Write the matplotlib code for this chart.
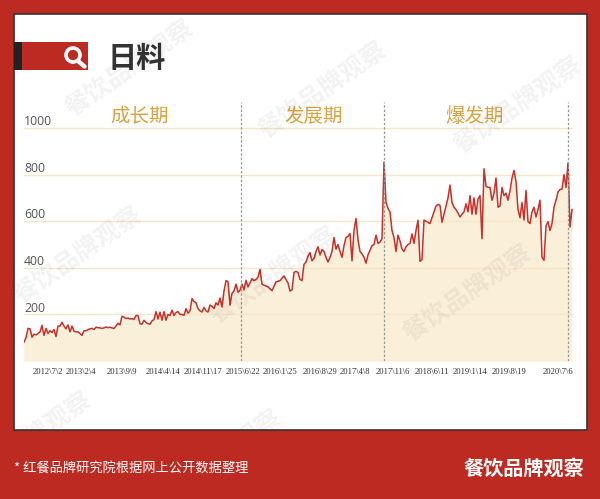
import numpy as np
import matplotlib
matplotlib.use('Agg')
import matplotlib.pyplot as plt
from matplotlib.patches import Rectangle, Circle

plt.rcParams['font.family'] = ['Noto Sans CJK SC', 'DejaVu Sans']

# ============================================
# data (one sample per step on the category axis)
# ============================================
values = [
    81, 100, 140, 138, 102, 115, 112, 118, 125, 153, 110, 140, 118, 130, 122, 135, 105, 150, 150, 166,
    150, 138, 155, 125, 150, 128, 125, 125, 118, 110, 130, 130, 135, 138, 140, 135, 145, 143, 142, 140,
    142, 146, 143, 145, 142, 140, 150, 162, 155, 192, 188, 182, 185, 180, 182, 178, 195, 195, 160, 158,
    175, 165, 160, 158, 172, 178, 212, 180, 210, 175, 212, 175, 200, 195, 218, 195, 208, 212, 200, 200,
    196, 225, 205, 215, 268, 255, 250, 225, 215, 210, 230, 215, 210, 240, 235, 225, 250, 240, 270, 232,
    300, 345, 340, 240, 290, 300, 330, 295, 303, 330, 305, 346, 318, 335, 353, 345, 350, 360, 393, 330,
    325, 322, 318, 310, 302, 320, 340, 342, 345, 355, 365, 350, 335, 300, 305, 380, 385, 380, 350, 345,
    415, 425, 450, 465, 430, 440, 470, 490, 455, 478, 470, 445, 425, 445, 470, 530, 480, 500, 470, 445,
    495, 530, 535, 547, 430, 560, 612, 520, 470, 460, 445, 420, 455, 475, 495, 500, 540, 505, 510, 525,
    854, 680, 655, 640, 560, 530, 470, 540, 515, 480, 470, 490, 500, 505, 545, 505, 560, 604, 428, 435,
    605, 600, 595, 590, 615, 640, 665, 672, 668, 595, 630, 665, 700, 755, 680, 660, 650, 635, 618, 630,
    640, 675, 640, 710, 630, 700, 630, 695, 710, 525, 825, 750, 745, 745, 690, 720, 785, 660, 665, 745,
    710, 720, 690, 730, 785, 818, 770, 650, 615, 680, 605, 732, 598, 590, 640, 660, 618, 650, 690, 445,
    432, 580, 598, 560, 590, 660, 690, 725, 736, 738, 800, 745, 850, 575, 650,
]
date_labels = ['2012\\7\\2', '2013\\2\\4', '2013\\9\\9', '2014\\4\\14', '2014\\11\\17', '2015\\6\\22', '2016\\1\\25',
               '2016\\8\\29', '2017\\4\\8', '2017\\11\\6', '2018\\6\\11', '2019\\1\\14', '2019\\8\\19', '2020\\7\\6']
date_steps = [12, 28.5, 49, 69.5, 89.5, 109.5, 128, 148, 165.5, 184.5, 204, 223, 242.5, 267]
y_ticks = [200, 400, 600, 800, 1000]
period_names = ['成长期', '发展期', '爆发期']
period_steps = [58, 145, 225.5]
split_steps = [108.5, 180, 272]

RED = '#BD2A21'
W, H = 600, 499

fig = plt.figure(figsize=(W / 100, H / 100), dpi=100, facecolor=RED)

# background layer in pixel coords
bg = fig.add_axes([0, 0, 1, 1], zorder=0)
bg.set_xlim(0, W)
bg.set_ylim(H, 0)
bg.axis('off')
panel = Rectangle((13.5, 13.5), 573, 416.5, fc='white', ec='#333333', lw=1.2)
bg.add_patch(panel)
bg.add_patch(Rectangle((21, 42), 67, 28, fc=RED, ec='none'))
bg.add_patch(Rectangle((13.5, 42), 8, 28, fc='#222222', ec='none'))
bg.plot([78, 84.5], [61, 66.5], color='white', lw=3.2, solid_capstyle='round')
bg.add_patch(Circle((73, 55), 7, fc=RED, ec='white', lw=2.6))
bg.text(136.5, 58, '日料', fontsize=21, fontweight='bold', color='#333333', ha='center', va='center')

# chart
ax = fig.add_axes([24 / W, 1 - 361 / H, 549 / W, 259 / H], zorder=1)
ax.patch.set_alpha(0)
x = np.arange(len(values))
ax.set_xlim(0, 274.5)
ax.set_ylim(0, 259 / 0.233)
for s in ax.spines.values():
    s.set_visible(False)

ax.fill_between(x, 0, values, color='#FAEFD9', lw=0, zorder=1)
for t in y_ticks:
    ax.axhline(t, color='#F6E6C8', lw=1, zorder=2)
    ax.annotate(str(t), (0, t), xytext=(0, 2), textcoords='offset points', fontsize=8.8,
                family='Open Sans', color='#555555', ha='left', va='baseline')
ax.axhline(0, color='#F6E6C8', lw=1, zorder=2)
ax.plot(x, values, color='#C4322C', lw=1.1, zorder=3)
for s in split_steps:
    ax.axvline(s, color='#999999', lw=0.9, ls=(0, (2, 1.5)), zorder=4)
for name, s in zip(period_names, period_steps):
    ax.text(s, 1050, name, fontsize=14, color='#D9A441', ha='center', va='center')

ax.set_yticks([])
ax.set_xticks(date_steps)
ax.set_xticklabels(date_labels, fontsize=6.2, family='Liberation Serif', color='#333333')
ax.tick_params(axis='x', length=0, pad=5)

# watermarks and footer on top
top = fig.add_axes([0, 0, 1, 1], zorder=2)
top.set_xlim(0, W)
top.set_ylim(H, 0)
top.axis('off')
top.patch.set_alpha(0)
for wx, wy in [(130, 68), (323, 90), (518, 105), (78, 255), (274, 275), (468, 293), (28, 440), (218, 458)]:
    # the two lowest ones run off the white panel, as in the source image
    wm = top.text(wx, wy, '餐饮品牌观察', fontsize=18, fontweight='black', color='black', alpha=0.05,
                  rotation=35, ha='center', va='center', rotation_mode='anchor', clip_on=True)
    wm.set_clip_path(panel)
top.text(14, 469, '* 红餐品牌研究院根据网上公开数据整理', fontsize=9.5, color='white', ha='left', va='center')
top.text(524, 468, '餐饮品牌观察', fontsize=14.5, fontweight='black', color='white', ha='center', va='center')

fig.savefig('out.png', dpi=100, facecolor=RED)
